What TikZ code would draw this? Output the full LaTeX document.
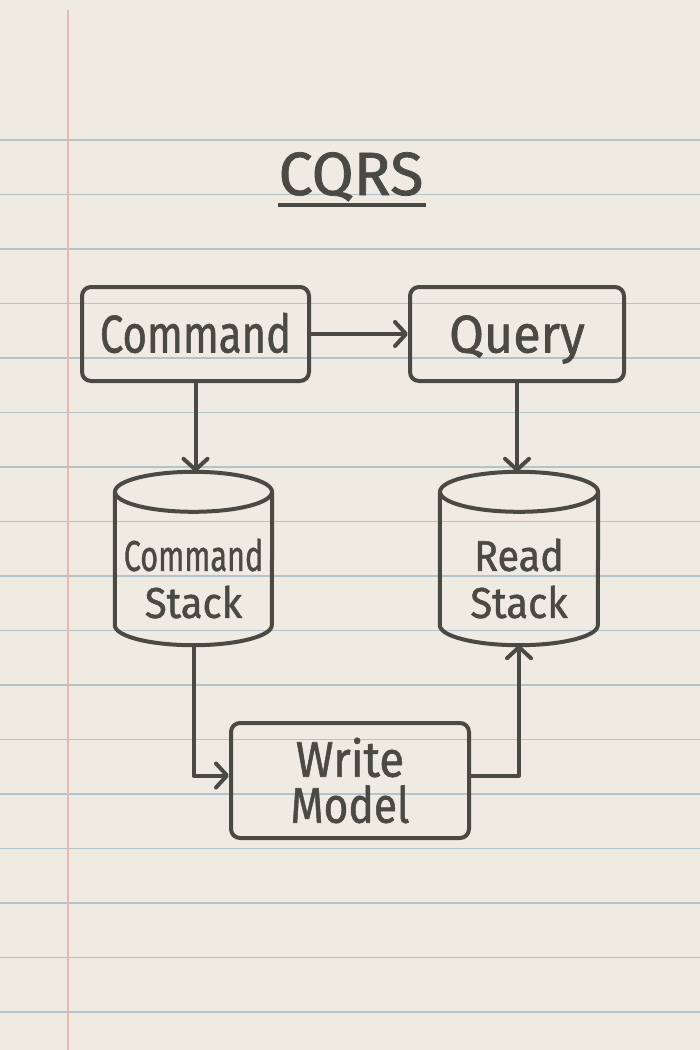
\documentclass[tikz,border=0pt]{standalone}
\usepackage{fontspec}
\usetikzlibrary{arrows.meta,calc}
\newfontfamily\hand[FakeBold=1.2]{Fira Sans}
\definecolor{paper}{HTML}{EFEAE2}
\definecolor{ink}{HTML}{4A4A45}
\definecolor{ruleblue}{HTML}{B3C3CB}
\definecolor{marginred}{HTML}{E9B8AE}
\newcommand\sx[2]{\scalebox{#1}[1]{#2}}
\begin{document}
\begin{tikzpicture}[x=1pt,y=-1pt,
  inkline/.style={draw=ink, line width=4pt, line join=round},
  box/.style={inkline, rounded corners=9pt, inner sep=0pt, text=ink},
  lbl/.style={text=ink, inner sep=0pt},
  flow/.style={draw=ink, line width=4pt, line join=round,
    -{Straight Barb[length=11pt,width=24pt,round]}},
  rulel/.style={draw=ruleblue, line width=1.3pt}
]
\useasboundingbox[fill=paper] (0,0) rectangle (700,1050);
\foreach \k in {0,...,16} \draw[rulel] (0,{140+54.5*\k}) -- (700,{140+54.5*\k});
\draw[draw=marginred, line width=1.8pt] (68,10) -- (68,1050);

% title
\node[lbl, anchor=base, font=\hand\fontsize{61}{61}\selectfont] (title) at (351,195) {CQRS};
\draw[draw=ink, line width=4.5pt] ($(title.base west)+(0,10)$) -- ($(title.base east)+(2,10)$);

% boxes
\node[box, minimum width=227, minimum height=94, text height=37pt, text depth=0pt,
  font=\hand\fontsize{53}{53}\selectfont] (cmd) at (195.5,334) {\sx{0.79}{Command}};
\node[box, minimum width=214, minimum height=94, text height=37pt, text depth=0pt,
  font=\hand\fontsize{53}{53}\selectfont] (qry) at (517,334) {\sx{0.95}{Query}};

% cylinders (node = body below the top ellipse)
\node[lbl, minimum width=157, minimum height=133, align=center,
  font=\hand\fontsize{43}{47}\selectfont] (cs) at (193.5,578.5) {\sx{0.71}{Command}\\\sx{0.93}{Stack}};
\node[lbl, minimum width=158, minimum height=133, align=center,
  font=\hand\fontsize{43}{47}\selectfont] (rs) at (519,578.5) {\sx{0.92}{Read}\\\sx{0.93}{Stack}};
\foreach \n/\rx in {cs/78.5, rs/79} {
  \draw[inkline] ($(\n.north)+(0,-20)$) ellipse [x radius=\rx pt, y radius=20pt];
  \draw[inkline] ($(\n.north west)+(0,-20)$) -- ($(\n.south west)+(0,-20)$)
    arc[start angle=180, end angle=360, x radius=\rx pt, y radius=20pt]
    -- ($(\n.north east)+(0,-20)$);
  \coordinate (\n-top) at ($(\n.north)+(0,-40)$);
}

% write model
\node[box, minimum width=238, minimum height=115, align=center,
  font=\hand\fontsize{50}{46}\selectfont] (wm) at (350,780.5) {\sx{0.91}{Write}\\\sx{0.85}{Model}};

% connectors
\draw[flow] (cmd.east) -- (qry.west);
\draw[flow] (cmd.south) -- (cmd.south |- cs-top);
\draw[flow] (qry.south) -- (qry.south |- rs-top);
\draw[flow] (cs.south) |- ($(wm.west)+(0,-5)$);
\draw[flow] ($(wm.east)+(0,-5)$) -| (rs.south);
\end{tikzpicture}
\end{document}
